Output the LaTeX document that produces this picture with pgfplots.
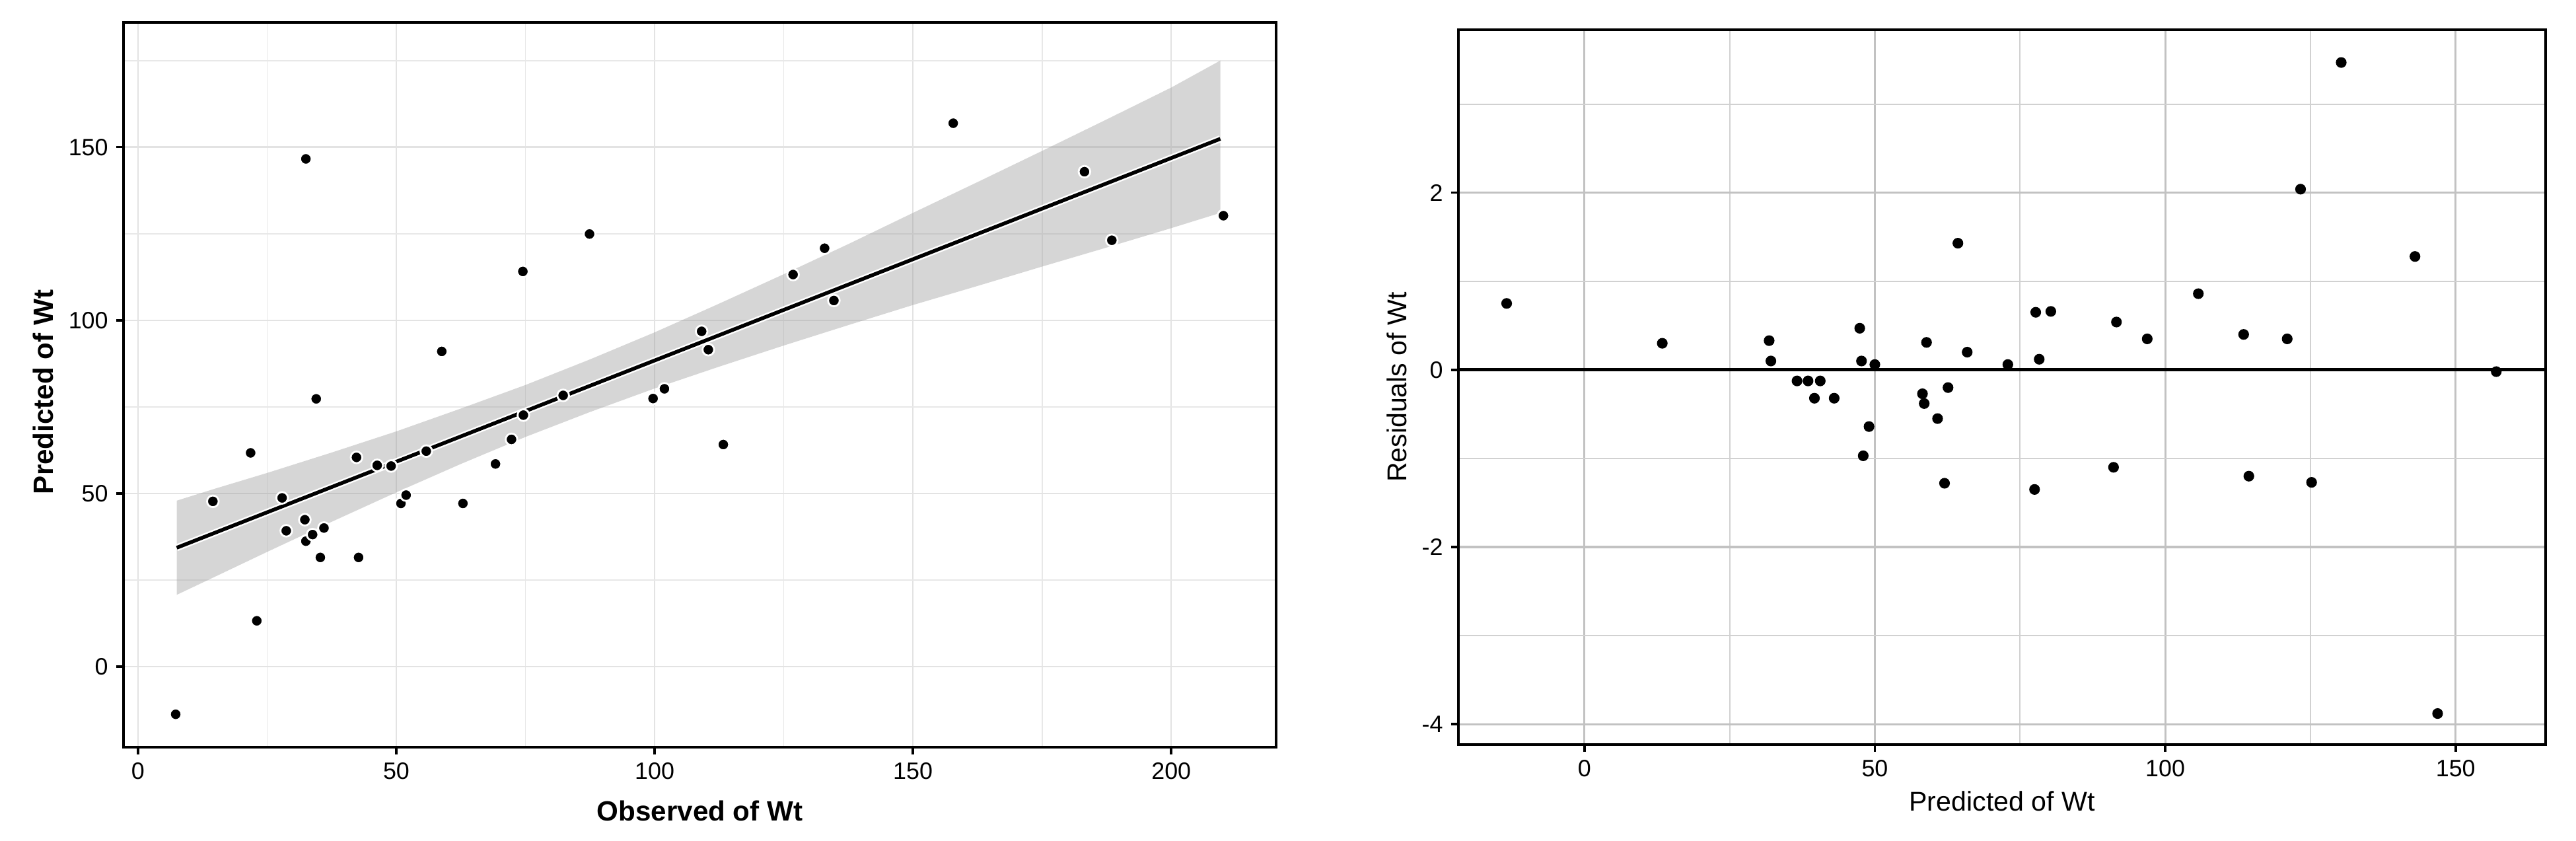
\documentclass[border=0pt]{standalone}
\usepackage{fontspec}
\setmainfont{Liberation Sans}
\usepackage{pgfplots}
\pgfplotsset{compat=1.18}

\pgfplotsset{
  ggframe/.style={
    scale only axis,
    axis line style={black, line width=1pt},
    tick pos=left,
    tick align=outside,
    major tick length=0.11cm,
    minor tick length=0pt,
    tick style={black, line width=1pt},
    /pgf/number format/assume math mode=true,
    ticklabel style={font=\fontsize{10.2}{12}\selectfont, black},
    grid=both,
  },
}

\begin{document}
\begin{tikzpicture}

% observed vs predicted, with lm fit and its band
\begin{axis}[ggframe,
  at={(1.87cm,1.41cm)}, anchor=south west,
  width=17.45cm, height=10.97cm,
  xmin=-2.8, xmax=220.3, ymin=-23.3, ymax=186,
  xtick={0,50,100,150,200}, ytick={0,50,100,150},
  minor xtick={25,75,125,175}, minor ytick={25,75,125,175},
  major grid style={black!11, line width=0.7pt},
  minor grid style={black!9, line width=0.5pt},
  label style={font=\fontsize{12}{14}\selectfont\bfseries},
  xlabel={Observed of Wt}, ylabel={Predicted of Wt},
  xlabel style={at={(axis description cs:0.5,-0.102)}, anchor=base},
  ylabel style={at={(axis description cs:-0.0613,0.49)}, anchor=base},
]
% band: upper edge left to right, then lower edge right to left
\addplot[fill=black!40, fill opacity=0.4, draw=none] coordinates {
  (7.5,47.9) (15,51.4) (25,55.9) (37.5,61.8) (50,67.9) (62.5,74.5) (75,81.3)
  (87.5,88.7) (100,96.5) (112.5,104.8) (125,113.3) (137.5,122.0) (150,131.0)
  (162.5,139.9) (175,148.9) (187.5,158.0) (200,167.2) (209.5,175.0)
  (209.5,131.0) (200,126.6) (187.5,121.0) (175,115.5) (162.5,109.9)
  (150,104.4) (137.5,98.6) (125,92.7) (112.5,86.6) (100,80.3) (87.5,73.5)
  (75,66.3) (62.5,58.5) (50,50.3) (37.5,41.8) (25,33.1) (15,26.0) (7.5,20.7)
} -- cycle;
\addplot[white, line width=3pt] coordinates {(7.5,34.3) (209.5,152.4)};
\addplot[black, line width=1.6pt] coordinates {(7.5,34.3) (209.5,152.4)};
\addplot[only marks, mark=*, mark size=2.5pt,
  mark options={fill=black, draw=white, line width=0.8pt}] coordinates {
  (7.3,-13.8) (14.5,47.7) (21.8,61.7) (23.0,13.2) (27.9,48.7) (28.7,39.2)
  (32.3,42.4) (32.5,36.2) (33.8,38.1) (35.3,31.5) (36.0,40.0) (34.5,77.3)
  (32.5,146.6) (42.3,60.4) (42.7,31.5) (46.3,58.1) (49.0,57.9) (50.9,47.1)
  (51.9,49.5) (55.8,62.2) (58.8,91.0) (62.9,47.1) (69.2,58.5) (72.3,65.6)
  (74.6,72.6) (74.5,114.1) (82.3,78.3) (87.4,124.9) (99.7,77.4) (101.9,80.2)
  (109.1,96.8) (110.4,91.5) (113.3,64.1) (126.8,113.2) (132.9,120.8)
  (134.7,105.7) (157.8,156.9) (183.2,142.9) (188.5,123.1) (210.1,130.2)
};
\end{axis}

% residuals vs predicted
\begin{axis}[ggframe,
  at={(22.08cm,1.45cm)}, anchor=south west,
  width=16.46cm, height=10.82cm,
  xmin=-21.7, xmax=165.5, ymin=-4.23, ymax=3.84,
  xtick={0,50,100,150}, ytick={-4,-2,0,2},
  minor xtick={25,75,125}, minor ytick={-3,-1,1,3},
  major grid style={black!24, line width=0.9pt},
  minor grid style={black!18, line width=0.6pt},
  label style={font=\fontsize{11.7}{14}\selectfont},
  xlabel={Predicted of Wt}, ylabel={Residuals of Wt},
  xlabel style={at={(axis description cs:0.5,-0.0933)}, anchor=base},
  ylabel style={at={(axis description cs:-0.048,0.5)}, anchor=base},
]
\addplot[black, line width=1.4pt] coordinates {(-21.7,0) (165.5,0)};
\addplot[only marks, mark=*, mark size=2.1pt, mark options={fill=black, draw=black}] coordinates {
  (-13.4,0.75) (13.4,0.30) (31.8,0.33) (32.1,0.10) (36.6,-0.125) (38.5,-0.125)
  (40.6,-0.125) (39.6,-0.32) (43.0,-0.32) (47.4,0.47) (47.7,0.10) (48.0,-0.97)
  (49.0,-0.64) (50.0,0.06) (58.2,-0.27) (58.5,-0.38) (58.9,0.31) (60.8,-0.55)
  (62.0,-1.28) (62.6,-0.20) (64.3,1.43) (65.9,0.20) (72.9,0.06) (77.5,-1.35)
  (77.7,0.65) (78.3,0.12) (80.3,0.66) (91.1,-1.10) (91.6,0.54) (96.9,0.35)
  (105.7,0.86) (113.5,0.40) (114.4,-1.20) (121.0,0.35) (123.3,2.04)
  (125.2,-1.27) (130.3,3.47) (143.0,1.28) (146.9,-3.88) (157.0,-0.02)
};
\end{axis}

\path (0,0) rectangle (39cm,12.72cm);
\end{tikzpicture}
\end{document}
